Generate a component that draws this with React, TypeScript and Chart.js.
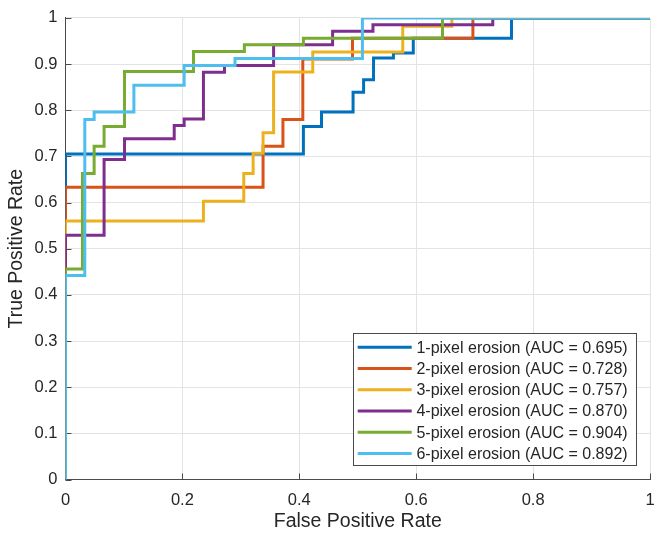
import { useEffect, useRef } from 'react';
import { Chart, registerables } from 'chart.js';

Chart.register(...registerables);

const seriesLabels = [
  '1-pixel erosion (AUC = 0.695)',
  '2-pixel erosion (AUC = 0.728)',
  '3-pixel erosion (AUC = 0.757)',
  '4-pixel erosion (AUC = 0.870)',
  '5-pixel erosion (AUC = 0.904)',
  '6-pixel erosion (AUC = 0.892)',
];
const seriesColors = ['#0072BD', '#D95319', '#EDB120', '#7E2F8E', '#77AC30', '#4DBEEE'];

// Step breakpoints: each (fpr, tpr) is the end of a horizontal run at level tpr,
// reached by a vertical rise at the previous fpr.
const fpr1 = [0, 0.407, 0.438, 0.492, 0.51, 0.527, 0.561, 0.595, 0.763, 1];
const tpr1 = [0, 0.705, 0.765, 0.796, 0.839, 0.866, 0.913, 0.924, 0.956, 1];

const fpr2 = [0, 0.338, 0.372, 0.406, 0.491, 0.697, 1];
const tpr2 = [0, 0.633, 0.722, 0.78, 0.911, 0.956, 1];

const fpr3 = [0, 0.236, 0.305, 0.321, 0.338, 0.356, 0.423, 0.577, 0.661, 1];
const tpr3 = [0, 0.56, 0.603, 0.663, 0.707, 0.751, 0.883, 0.926, 0.982, 1];

const fpr4 = [0, 0.066, 0.101, 0.186, 0.203, 0.236, 0.272, 0.356, 0.457, 0.526, 0.731, 1];
const tpr4 = [0, 0.529, 0.693, 0.738, 0.767, 0.781, 0.882, 0.897, 0.942, 0.971, 0.985, 1];

const fpr5 = [0, 0.029, 0.049, 0.066, 0.101, 0.219, 0.306, 0.407, 0.645, 1];
const tpr5 = [0, 0.456, 0.663, 0.722, 0.765, 0.884, 0.927, 0.942, 0.956, 1];

const fpr6 = [0, 0.033, 0.049, 0.117, 0.203, 0.29, 0.508, 1];
const tpr6 = [0, 0.442, 0.78, 0.796, 0.854, 0.897, 0.912, 1];

const fprSeries = [fpr1, fpr2, fpr3, fpr4, fpr5, fpr6];
const tprSeries = [tpr1, tpr2, tpr3, tpr4, tpr5, tpr6];

const xTickLabels = ['0', '0.2', '0.4', '0.6', '0.8', '1'];
const yTickLabels = ['0', '0.1', '0.2', '0.3', '0.4', '0.5', '0.6', '0.7', '0.8', '0.9', '1'];

const xTitle = 'False Positive Rate';
const yTitle = 'True Positive Rate';

const FONT = '"Liberation Sans", Arial, Helvetica, sans-serif';
const TEXT = '#262626';
const AXIS = '#4a4a4a';

const innerTicks = {
  id: 'innerTicks',
  beforeDatasetsDraw(chart: any) {
    const { ctx, chartArea, scales } = chart;
    ctx.save();
    ctx.strokeStyle = AXIS;
    ctx.lineWidth = 1;
    const len = 6;
    scales.x.ticks.forEach((t: any) => {
      const px = Math.round(scales.x.getPixelForValue(t.value)) + 0.5;
      ctx.beginPath();
      ctx.moveTo(px, chartArea.bottom);
      ctx.lineTo(px, chartArea.bottom - len);
      ctx.stroke();
    });
    scales.y.ticks.forEach((t: any) => {
      const py = Math.round(scales.y.getPixelForValue(t.value)) + 0.5;
      ctx.beginPath();
      ctx.moveTo(chartArea.left, py);
      ctx.lineTo(chartArea.left + len, py);
      ctx.stroke();
    });
    ctx.restore();
  },
};

const boxLegend = {
  id: 'boxLegend',
  afterDraw(chart: any) {
    const { ctx, chartArea } = chart;
    const w = 283;
    const h = 132;
    const right = chartArea.right - 14;
    const bottom = chartArea.bottom - 14.5;
    const left = right - w;
    const top = bottom - h;
    ctx.save();
    ctx.fillStyle = '#ffffff';
    ctx.fillRect(left, top, w, h);
    ctx.strokeStyle = AXIS;
    ctx.lineWidth = 1;
    ctx.strokeRect(Math.round(left) + 0.5, Math.round(top) + 0.5, w, h);
    ctx.font = `16px ${FONT}`;
    ctx.textBaseline = 'middle';
    ctx.textAlign = 'left';
    const rowH = 21.25;
    chart.data.datasets.forEach((ds: any, i: number) => {
      const cy = top + 14.3 + i * rowH;
      ctx.strokeStyle = ds.borderColor;
      ctx.lineWidth = 3;
      ctx.beginPath();
      ctx.moveTo(left + 4.7, cy);
      ctx.lineTo(left + 58.7, cy);
      ctx.stroke();
      ctx.fillStyle = TEXT;
      ctx.fillText(ds.label, left + 63.4, cy + 1);
    });
    ctx.restore();
  },
};

export default function App() {
  const canvasRef = useRef<HTMLCanvasElement | null>(null);

  useEffect(() => {
    if (!canvasRef.current) return;
    const datasets = seriesLabels.map((label, i) => ({
      label,
      data: fprSeries[i].map((x, j) => ({ x, y: tprSeries[i][j] })),
      borderColor: seriesColors[i],
      backgroundColor: seriesColors[i],
      borderWidth: 3,
      pointRadius: 0,
      stepped: 'after' as const,
      fill: false,
      order: seriesLabels.length - 1 - i,
      borderJoinStyle: 'miter' as const,
      borderCapStyle: 'butt' as const,
    }));

    const chart = new Chart(canvasRef.current, {
      type: 'line',
      data: { datasets },
      options: {
        animation: false,
        responsive: true,
        maintainAspectRatio: false,
        layout: { padding: { top: 16.5, right: 11, bottom: 0, left: 0 } },
        plugins: {
          legend: { display: false },
          tooltip: { enabled: false },
        },
        scales: {
          x: {
            type: 'linear',
            min: 0,
            max: 1,
            ticks: {
              stepSize: 0.2,
              padding: 11,
              color: TEXT,
              font: { family: FONT, size: 16.5 },
              maxRotation: 0,
              callback: (_v: any, idx: number) => xTickLabels[idx],
            },
            grid: { color: '#e3e3e3', drawTicks: false, lineWidth: 1 },
            border: { display: true, color: AXIS, width: 1 },
            title: {
              display: true,
              text: xTitle,
              color: TEXT,
              font: { family: FONT, size: 19.5 },
              padding: { top: 0, bottom: 8 },
            },
            afterFit: (scale: any) => {
              scale.height = 61.5;
              scale.paddingLeft = 0;
              scale.paddingRight = 0;
            },
          },
          y: {
            type: 'linear',
            min: 0,
            max: 1,
            ticks: {
              stepSize: 0.1,
              padding: 8,
              color: TEXT,
              font: { family: FONT, size: 16.5 },
              callback: (_v: any, idx: number) => yTickLabels[idx],
            },
            grid: { color: '#e3e3e3', drawTicks: false, lineWidth: 1 },
            border: { display: true, color: AXIS, width: 1 },
            title: {
              display: true,
              text: yTitle,
              color: TEXT,
              font: { family: FONT, size: 19.5 },
              padding: { top: 5, bottom: 0 },
            },
            afterFit: (scale: any) => {
              scale.width = 65.5;
            },
          },
        },
      },
      plugins: [innerTicks, boxLegend],
    });
    return () => chart.destroy();
  }, []);

  return (
    <div style={{ position: 'absolute', left: 0, top: 0, width: 661, height: 541, background: '#ffffff' }}>
      <canvas ref={canvasRef} />
    </div>
  );
}
